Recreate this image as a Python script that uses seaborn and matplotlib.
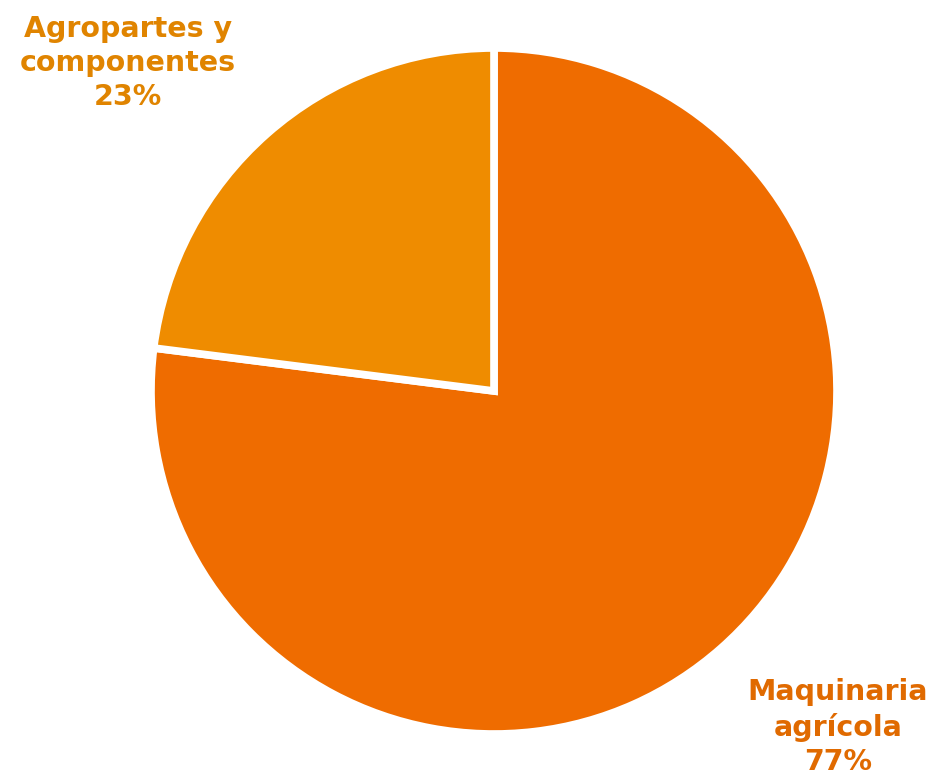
import matplotlib
matplotlib.use("Agg")
import matplotlib.pyplot as plt
import seaborn as sns

categories = ["Maquinaria\nagrícola", "Agropartes y\ncomponentes"]
values = [77, 23]
slice_colors = ["#EF6C00", "#EF8C00"]
label_colors = ["#E06A00", "#E08400"]

sns.set_theme(style="white")
plt.rcParams["font.family"] = ["DejaVu Sans"]

W, H = 936, 778
fig = plt.figure(figsize=(W / 100, H / 100), dpi=100)
cx, cy, r = 494, 391, 343
ax = fig.add_axes([(cx - r) / W, (H - cy - r) / H, 2 * r / W, 2 * r / H])
ax.pie(values, colors=slice_colors, startangle=90, counterclock=False,
       radius=1, wedgeprops=dict(edgecolor="white", linewidth=5.5))
ax.set_xlim(-1, 1)
ax.set_ylim(-1, 1)
ax.set_aspect("equal")
ax.axis("off")

label_pos = [(838, 727), (128, 63)]
for cat, v, col, (px, py) in zip(categories, values, label_colors, label_pos):
    fig.text(px / W, 1 - py / H, f"{cat}\n{v}%", ha="center", va="center",
             multialignment="center", fontsize=20.5, fontweight="bold",
             color=col, linespacing=1.28)

fig.savefig("out.png", dpi=100, facecolor="white")
